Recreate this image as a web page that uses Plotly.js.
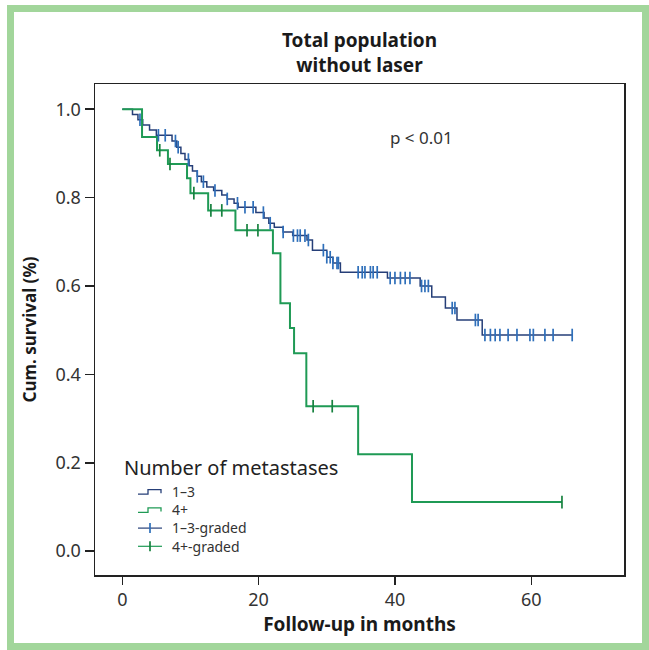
<!DOCTYPE html>
<html>
<head>
<meta charset="utf-8">
<script src="https://cdn.plot.ly/plotly-3.0.1.min.js"></script>
<style>
  html, body { margin: 0; padding: 0; background: #ffffff; }
  #chart { position: absolute; left: 0; top: 0; width: 649px; height: 650px; }
  #frame { position: absolute; left: 7px; top: 5px; right: 0; bottom: 0; box-sizing: border-box;
           border: 7px solid #a2d69b; pointer-events: none; }
</style>
</head>
<body>
<div id="chart"></div>
<div id="frame"></div>
<script>
// ---- data ----
const seriesNames = ["1\u20133", "4+", "1\u20133-graded", "4+-graded"];
const legendTitle = "Number of metastases";

// Kaplan-Meier steps, group 1–3 (time in months, survival after the step)
const blueTimes = [0, 1.5, 2.3, 3.0, 4.0, 5.0, 7.3, 8.0, 8.6, 9.2, 9.8, 10.3, 11.0, 11.6, 12.4, 13.4,
                   14.6, 15.4, 16.4, 17.0, 19.6, 20.8, 21.5, 22.3, 23.6, 25.0, 27.1, 27.9, 30.0, 30.9,
                   32.0, 38.9, 43.7, 45.4, 47.4, 49.1, 52.8];
const blueSurv  = [1.000, 0.988, 0.976, 0.964, 0.953, 0.941, 0.928, 0.914, 0.900, 0.886, 0.872, 0.860,
                   0.848, 0.836, 0.824, 0.816, 0.806, 0.797, 0.787, 0.778, 0.766, 0.754, 0.742, 0.733,
                   0.722, 0.714, 0.704, 0.681, 0.665, 0.652, 0.631, 0.618, 0.600, 0.575, 0.550, 0.523, 0.489];
const blueEnd = 66.0;
const blueCensor = [2.6, 5.3, 6.3, 7.8, 8.2, 9.7, 11.0, 11.9, 13.6, 15.4, 16.9, 18.0, 19.2, 20.7, 21.7,
                    23.6, 25.1, 25.7, 26.1, 26.8, 27.3, 29.5, 30.0, 30.5, 30.9, 31.5, 31.7, 34.6, 35.2,
                    35.6, 36.4, 36.8, 37.4, 39.3, 40.0, 40.8, 41.5, 42.2, 43.9, 44.4, 44.9, 48.4, 48.8,
                    51.8, 52.2, 53.2, 54.0, 54.7, 55.4, 56.6, 57.9, 59.8, 60.3, 62.0, 63.2, 66.0];

// Kaplan-Meier steps, group 4+
const greenTimes = [0, 2.9, 5.1, 6.7, 9.5, 10.0, 12.6, 16.6, 22.1, 23.2, 24.6, 25.2, 27.0, 34.6, 42.5];
const greenSurv  = [1.000, 0.937, 0.907, 0.876, 0.844, 0.810, 0.771, 0.726, 0.674, 0.561, 0.505, 0.448,
                    0.328, 0.219, 0.111];
const greenEnd = 64.5;
const greenCensor = [5.5, 7.0, 10.5, 13.0, 14.6, 18.3, 19.9, 28.0, 30.8, 64.5];

const xTickVals = [0, 20, 40, 60];
const yTickVals = [0.0, 0.2, 0.4, 0.6, 0.8, 1.0];
const yTickText = ["0.0", "0.2", "0.4", "0.6", "0.8", "1.0"];

// ---- helpers ----
function stepXY(times, surv, end) {
  return { x: times.concat([end]), y: surv.concat([surv[surv.length - 1]]) };
}
function survAt(times, surv, t) {
  let s = surv[0];
  for (let i = 0; i < times.length; i++) { if (times[i] <= t) s = surv[i]; }
  return s;
}
// plot-area geometry (pixels) -> paper coordinates, for legend placement
const M = { l: 95, r: 25, t: 84, b: 75 }, W = 649, H = 650;
const PW = W - M.l - M.r, PH = H - M.t - M.b;
const PX = px => (px - M.l) / PW;
const PY = py => (H - M.b - py) / PH;

const blueLine = "#263f78", blueMark = "#2e6fba";
const greenLine = "#1f9a55", greenMark = "#17823f";
const font = "Noto Sans, Open Sans, sans-serif";

const bStep = stepXY(blueTimes, blueSurv, blueEnd);
const gStep = stepXY(greenTimes, greenSurv, greenEnd);

const traces = [
  { x: bStep.x, y: bStep.y, mode: "lines", line: { shape: "hv", color: blueLine, width: 1.5 },
    name: seriesNames[0], hoverinfo: "skip" },
  { x: gStep.x, y: gStep.y, mode: "lines", line: { shape: "hv", color: greenLine, width: 2 },
    name: seriesNames[1], hoverinfo: "skip" },
  { x: blueCensor, y: blueCensor.map(t => survAt(blueTimes, blueSurv, t)), mode: "markers",
    marker: { symbol: "line-ns", size: 9, line: { color: blueMark, width: 1.7 } },
    name: seriesNames[2], hoverinfo: "skip" },
  { x: greenCensor, y: greenCensor.map(t => survAt(greenTimes, greenSurv, t)), mode: "markers",
    marker: { symbol: "line-ns", size: 9, line: { color: greenMark, width: 1.7 } },
    name: seriesNames[3], hoverinfo: "skip" }
];

// ---- hand-drawn legend (step icons like the reference) ----
const legFont = 14;
const legLine = legFont * 1.3;           // plotly multi-line spacing
const legCenter = 519;                   // vertical centre of the item block (px)
const legX0 = 138, legX1 = 162, legTextX = 170;
const legRows = seriesNames.map((_, i) => legCenter + (i - 1.5) * legLine);
const shapes = [];
const annotations = [];
annotations.push({ text: legendTitle, xref: "paper", yref: "paper", x: PX(122), y: PY(467),
  xanchor: "left", yanchor: "middle", showarrow: false, font: { size: 20, color: "#222" } });
annotations.push({ text: seriesNames.join("<br>"), xref: "paper", yref: "paper", x: PX(legTextX),
  y: PY(legCenter), xanchor: "left", yanchor: "middle", align: "left", showarrow: false,
  font: { size: legFont, color: "#333" } });
const legColors = [[blueLine, blueMark], [greenLine, greenMark], [blueLine, blueMark], [greenLine, greenMark]];
legRows.forEach((yc, i) => {
  if (i < 2) {
    const p = "M" + PX(legX0) + "," + PY(yc + 2.5) + " L" + PX(148) + "," + PY(yc + 2.5) +
              " L" + PX(148) + "," + PY(yc - 2) + " L" + PX(161) + "," + PY(yc - 2) +
              " L" + PX(161) + "," + PY(yc + 1.5);
    shapes.push({ type: "path", xref: "paper", yref: "paper", path: p,
      line: { color: legColors[i][0], width: 1.3 } });
  } else {
    shapes.push({ type: "line", xref: "paper", yref: "paper", x0: PX(legX0), x1: PX(legX1),
      y0: PY(yc), y1: PY(yc), line: { color: legColors[i][0], width: 1.2 } });
    shapes.push({ type: "line", xref: "paper", yref: "paper", x0: PX(150), x1: PX(150),
      y0: PY(yc - 5), y1: PY(yc + 5), line: { color: legColors[i][1], width: 1.7 } });
  }
});
annotations.push({ text: "p < 0.01", xref: "paper", yref: "paper", x: PX(421), y: PY(137),
  xanchor: "center", yanchor: "middle", showarrow: false, font: { size: 17, color: "#333" } });

const layout = {
  width: W, height: H,
  paper_bgcolor: "#ffffff", plot_bgcolor: "#ffffff",
  margin: M,
  font: { family: font, color: "#222" },
  showlegend: false,
  title: { text: "<b>Total population<br>without laser</b>", x: 0.5, xref: "paper",
           y: 1 - 47 / 650, yref: "container", yanchor: "middle",
           font: { family: font, size: 19, color: "#1a1a1a" } },
  xaxis: {
    range: [-4.0, 73.6], tickvals: xTickVals, ticks: "outside", ticklen: 8, tickwidth: 1.5,
    tickcolor: "#222", showline: true, mirror: true, linecolor: "#222", linewidth: 1.5,
    showgrid: false, zeroline: false, tickfont: { size: 18, color: "#333" },
    title: { text: "<b>Follow-up in months</b>", standoff: 6, font: { size: 19, color: "#1a1a1a" } }
  },
  yaxis: {
    range: [-0.054, 1.057], tickvals: yTickVals, ticktext: yTickText, ticks: "outside", ticklen: 9,
    tickwidth: 1.5, tickcolor: "#222", showline: true, mirror: true, linecolor: "#222", linewidth: 1.5,
    showgrid: false, zeroline: false, tickfont: { size: 18, color: "#333" },
    title: { text: "<b>Cum. survival (%)</b>", standoff: 14, font: { size: 17, color: "#1a1a1a" } }
  },
  shapes: shapes,
  annotations: annotations
};

Plotly.newPlot("chart", traces, layout, { displayModeBar: false, staticPlot: true });
</script>
</body>
</html>
